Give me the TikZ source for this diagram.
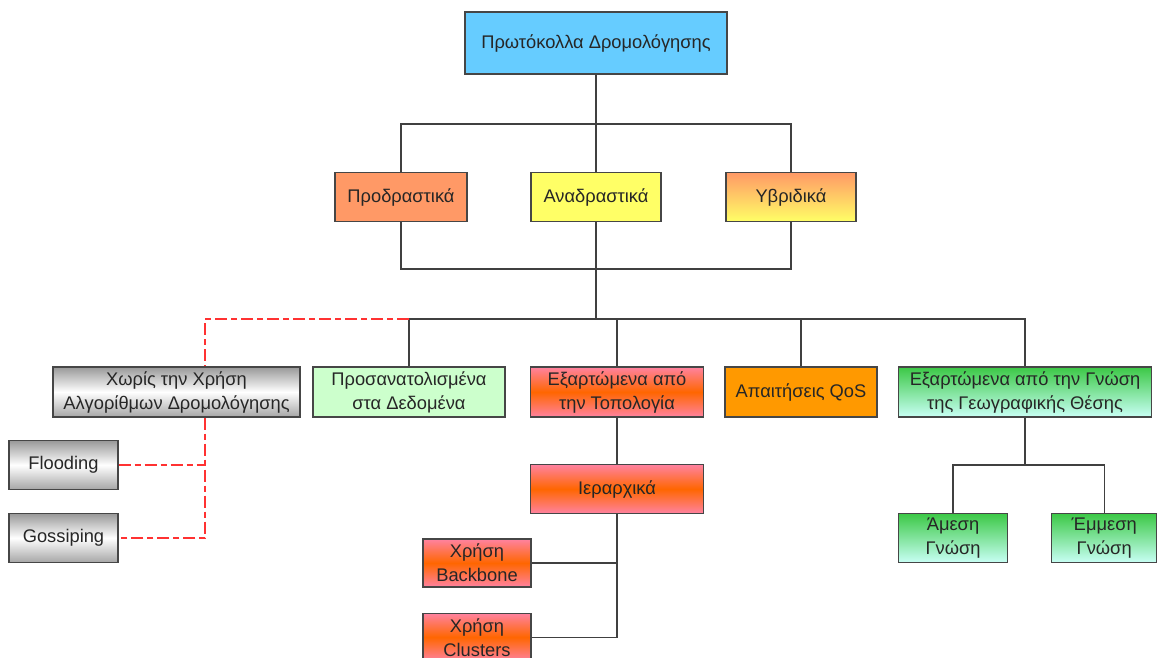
\documentclass[tikz,border=0pt]{standalone}
\usepackage{fontspec}
\setmainfont{Liberation Sans}
\usepackage{tikz}
\usetikzlibrary {positioning}
\definecolor{skyblue}{RGB}{102,204,255}
\definecolor{salmon}{RGB}{255,153,102}
\definecolor{lemon}{RGB}{255,255,102}
\definecolor{mint}{RGB}{204,255,204}
\definecolor{amber}{RGB}{255,153,0}
\definecolor{rosa}{RGB}{255,130,160}
\definecolor{flame}{RGB}{255,102,0}
\definecolor{leaf}{RGB}{60,200,70}
\definecolor{icecyan}{RGB}{200,255,245}
\definecolor{frame}{RGB}{70,70,70}
\definecolor{wire}{RGB}{64,64,64}
\definecolor{dashred}{RGB}{255,50,50}
\tikzset{
         mybox/.style={draw=frame, line width=1.2pt, minimum height=49pt, align=center,
                       inner sep=1pt, text=black!85, font=\fontsize{18.3}{24}\selectfont},
         graybox/.style={mybox, top color=black!40, bottom color=black!35, middle color=white},
         firebox/.style={mybox, top color=rosa, bottom color=rosa, middle color=flame},
         greenbox/.style={mybox, top color=leaf, bottom color=icecyan},
         myline/.style={draw=wire, line width=1.4pt},
         reddash/.style={draw=dashred, line width=1.4pt, dash pattern=on 12pt off 4pt on 6pt off 4pt},
}
\begin{document}
\begin{tikzpicture}[x=1pt, y=-1pt]
    \useasboundingbox (0,0) rectangle (1158,657);
    % Wurzel
    \node[mybox, fill=skyblue, minimum width=262pt, minimum height=62pt] (proto) at (596,43) {Πρωτόκολλα Δρομολόγησης};

    % Ebene 1
    \node[mybox, fill=salmon, minimum width=132pt] (prod) at (401,197) {Προδραστικά};
    \node[mybox, fill=lemon, minimum width=130pt] (anad) at (596,197) {Αναδραστικά};
    \node[mybox, top color=salmon, bottom color=lemon, minimum width=130pt] (yvr) at (791,197) {Υβριδικά};

    % Ebene 2
    \node[graybox, minimum width=247pt, minimum height=50pt] (xoris) at (176.5,392) {Χωρίς την Χρήση\\Αλγορίθμων Δρομολόγησης};
    \node[mybox, fill=mint, minimum width=192pt, minimum height=50pt] (prosan) at (409,392) {Προσανατολισμένα\\στα Δεδομένα};
    \node[firebox, minimum width=173pt, minimum height=50pt] (topol) at (617,392) {Εξαρτώμενα από\\την Τοπολογία};
    \node[mybox, fill=amber, minimum width=152pt, minimum height=50pt] (qos) at (801,392) {Απαιτήσεις QoS};
    \node[greenbox, minimum width=253pt, minimum height=50pt] (geo) at (1025,392) {Εξαρτώμενα από την Γνώση\\της Γεωγραφικής Θέσης};

    % Ebene 3
    \node[graybox, minimum width=109pt] (flood) at (63.5,465) {Flooding};
    \node[graybox, minimum width=109pt] (goss) at (63.5,538) {Gossiping};
    \node[firebox, minimum width=173pt] (ierar) at (617,489) {Ιεραρχικά};
    \node[firebox, minimum width=108pt, minimum height=48pt] (backb) at (477,563) {Χρήση\\Backbone};
    \node[firebox, minimum width=108pt, minimum height=48pt, below=25pt of backb] (clust) {Χρήση\\Clusters};
    \node[greenbox, minimum width=109pt] (amesi) at (953,538) {Άμεση\\Γνώση};
    \node[greenbox, minimum width=105pt, right=43pt of amesi] (emmesi) {Έμμεση\\Γνώση};

    % Verbindungen
    \coordinate (j1) at (596,124);
    \coordinate (j2) at (596,269);
    \coordinate (j3) at (596,319);
    \coordinate (r1) at (205,319);
    \coordinate (g1) at (1025,465);
    \draw[myline] (proto) -- (anad);
    \draw[myline] (prod.north) |- (j1) -| (yvr.north);
    \draw[myline] (prod.south) |- (j2) -| (yvr.south);
    \draw[myline] (anad) -- (j3);
    \draw[myline] (prosan.north) |- (j3) -| (geo.north);
    \draw[myline] (topol.north) |- (j3);
    \draw[myline] (qos.north) |- (j3);
    \draw[myline] (topol) -- (ierar);
    \draw[myline] (ierar.south) |- (backb.east);
    \draw[myline] (ierar.south) |- (clust.east);
    \draw[myline] (geo) -- (g1);
    \draw[myline] (amesi.north) |- (g1) -| (emmesi.north);
    \draw[reddash] (prosan.north |- j3) -- (r1) -- (r1 |- xoris.north);
    \draw[reddash] (r1 |- xoris.south) |- (goss.east);
    \draw[reddash] (flood.east) -- (r1 |- flood.east);
\end{tikzpicture}
\end{document}
